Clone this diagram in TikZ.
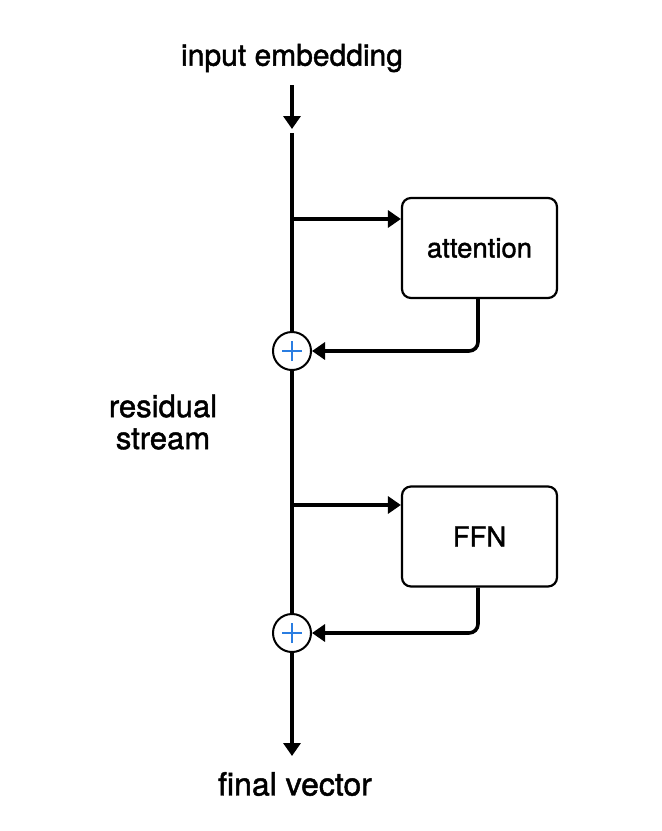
\documentclass[tikz,border=0pt]{standalone}
\usepackage{fontspec}
\setmainfont{TeX Gyre Heros}[FakeBold=1.4]
\usetikzlibrary{arrows.meta}
\definecolor{plusblue}{HTML}{2A7DE1}
\tikzset{
  stream/.style={line width=4.6pt},
  branch/.style={line width=3.6pt, rounded corners=9pt},
  tip/.style={-{Triangle[length=13pt,width=17pt]}},
  block/.style={draw, line width=2.2pt, rounded corners=9pt, minimum width=155pt, minimum height=100pt, font=\fontsize{27.5}{30}\selectfont},
  adder/.style={draw, circle, line width=2pt, minimum size=38pt, inner sep=0pt, fill=white},
  lbl/.style={font=\fontsize{30}{32}\selectfont, inner sep=0pt},
}
\begin{document}
\begin{tikzpicture}[x=1pt,y=-1pt]
\useasboundingbox (0,0) rectangle (662,831);
\fill[white] (0,0) rectangle (662,831);
\node[lbl] (in) at (292,58) {input embedding};
\node[lbl, font=\fontsize{32}{34}\selectfont] (out) at (295,784) {final vector};
\node[lbl, align=center, font=\fontsize{31}{32}\selectfont] (res) at (163,422) {residual\\stream};
\coordinate (inA) at (292,85);
\coordinate (inB) at (292,129);
\coordinate (top) at (292,133);
\coordinate (bot) at (292,756);
\node[block] (att) at (479.5,248) {attention};
\node[block] (ffn) at (479.5,536.5) {FFN};
\node[adder] (p1) at (292,351) {};
\node[adder] (p2) at (292,633) {};
\coordinate (s1) at (292,219);
\coordinate (s2) at (292,505);
% arrows
\draw[stream, tip] (inA) -- (inB);
\draw[stream] (top) -- (p1.north);
\draw[stream] (p1.south) -- (p2.north);
\draw[stream, tip] (p2.south) -- (bot);
\draw[branch, tip] (s1) -- (att.west |- s1);
\draw[branch, tip] (s2) -- (ffn.west |- s2);
\draw[branch, tip] (att.south -| 478,0) -- (478,351) -- (p1.east);
\draw[branch, tip] (ffn.south -| 478,0) -- (478,633) -- (p2.east);
% plus signs
\foreach \p in {p1,p2}{
  \draw[plusblue, line width=2.8pt] ([xshift=-10pt]\p.center) -- ([xshift=10pt]\p.center);
  \draw[plusblue, line width=2.8pt] ([yshift=-10pt]\p.center) -- ([yshift=10pt]\p.center);
}
\end{tikzpicture}
\end{document}
